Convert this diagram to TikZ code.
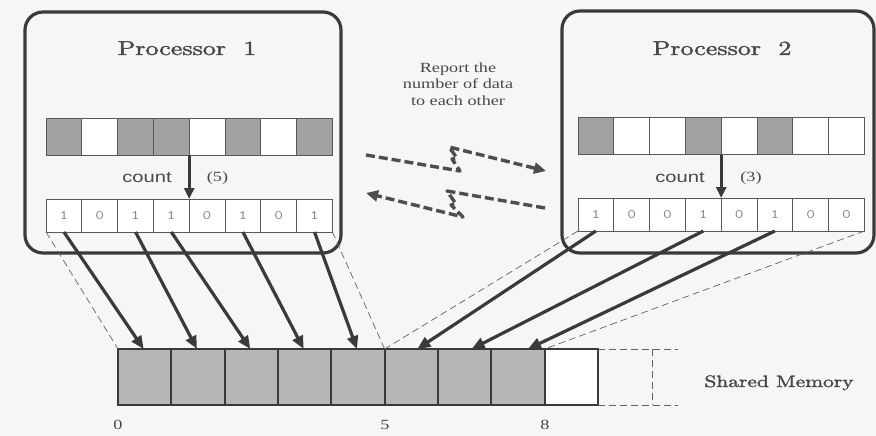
\documentclass[tikz,border=0pt]{standalone}
\usepackage{fontspec}
\newfontfamily\sansf{Liberation Sans}
\newfontfamily\seriff{Liberation Serif}
\newfontfamily\heavyrm[FakeBold=1.6]{lmroman10-regular.otf}
\usetikzlibrary{arrows.meta}
\definecolor{bg}{RGB}{246,246,244}
\definecolor{ink}{RGB}{58,58,58}
\definecolor{txt}{RGB}{72,72,72}
\definecolor{shade}{RGB}{162,162,162}
\definecolor{mshade}{RGB}{182,182,182}
\definecolor{digit}{RGB}{130,130,130}
\newcommand\wx[1]{\scalebox{1.3}[1]{#1}}
\begin{document}
\begin{tikzpicture}[x=1pt,y=-1pt,
  pbox/.style={draw=ink, line width=3.2pt, rounded corners=18pt, inner sep=0pt},
  tcell/.style={draw=ink!85, line width=0.8pt, minimum width=35.8pt, minimum height=37pt, inner sep=0pt, outer sep=0pt, anchor=north west},
  bcell/.style={draw=ink!85, line width=0.8pt, fill=white, minimum width=35.8pt, minimum height=33pt, inner sep=0pt, outer sep=0pt, anchor=north west, text=digit, font=\ttfamily\fontsize{13}{13}\selectfont},
  on/.style={fill=shade},
  off/.style={fill=white},
  mcell/.style={draw=ink, line width=1.8pt, fill=mshade, minimum width=53.33pt, minimum height=56pt, inner sep=0pt, outer sep=0pt, anchor=north west},
  bigarrow/.style={draw=ink, line width=3.2pt, -{Triangle[length=13pt,width=11pt]}},
  cntarrow/.style={draw=ink, line width=3pt, -{Triangle[length=11pt,width=10pt]}},
  commarrow/.style={draw=ink!90, line width=3.4pt, dash pattern=on 9pt off 4pt, line join=round, -{Triangle[length=12pt,width=11pt]}},
  thindash/.style={draw=ink!80, line width=0.7pt, dash pattern=on 7pt off 4pt},
  title/.style={font=\heavyrm\fontsize{20}{24}\selectfont, text=txt, anchor=base},
  cnt/.style={font=\sansf\fontsize{15.5}{15.5}\selectfont, text=txt},
  num/.style={font=\seriff\fontsize{14}{14}\selectfont, text=txt}
]
\fill[bg] (0,0) rectangle (876,436);
\useasboundingbox (0,0) rectangle (876,436);

% processor boxes
\node[pbox, minimum width=316pt, minimum height=241pt] (P1) at (183,132.5) {};
\node[pbox, minimum width=312pt, minimum height=242pt] (P2) at (718,132) {};

\node[title] (h1) at (187,55) {\wx{Processor\ \ 1}};
\node[title] (h2) at (722,55) {\wx{Processor\ \ 2}};

% processor 1 rows
\foreach \i/\st in {1/on,2/off,3/on,4/on,5/off,6/on,7/off,8/on}
  \node[tcell,\st] (p1t\i) at ({46+(\i-1)*35.8},118) {};
\foreach \i/\v in {1/1,2/0,3/1,4/1,5/0,6/1,7/0,8/1}
  \node[bcell] (p1b\i) at ({46+(\i-1)*35.8},199) {\wx{\v}};

% processor 2 rows
\foreach \i/\st in {1/on,2/off,3/off,4/on,5/off,6/on,7/off,8/off}
  \node[tcell,\st] (p2t\i) at ({578+(\i-1)*35.8},117.5) {};
\foreach \i/\v in {1/1,2/0,3/0,4/1,5/0,6/1,7/0,8/0}
  \node[bcell] (p2b\i) at ({578+(\i-1)*35.8},198) {\wx{\v}};

% count arrows
\draw[cntarrow] (p1t4.south east) -- (p1b4.north east);
\draw[cntarrow] (p2t4.south east) -- (p2b4.north east);
\node[cnt] (c1) at (147,178) {\wx{count}};
\node[num] (n1) at (217.5,178) {\wx{(5)}};
\node[cnt] (c2) at (680,178) {\wx{count}};
\node[num] (n2) at (751,178) {\wx{(3)}};

% report text
\node[font=\seriff\fontsize{14}{16.5}\selectfont, text=txt, align=center] (rep) at (458,84)
  {\wx{Report the}\\\wx{number of data}\\\wx{to each other}};

% communication arrows
\coordinate (ua) at (366,155);
\coordinate (ub) at (460,171);
\coordinate (uc) at (452,159);
\coordinate (ud) at (457,158);
\coordinate (ue) at (449,147);
\coordinate (uf) at (546,171);
\draw[commarrow] (ua) -- (ub) -- (uc) -- (ud) -- (ue) -- (uf);
\coordinate (la) at (545,208);
\coordinate (lb) at (447,191);
\coordinate (lc) at (456,204);
\coordinate (ld) at (451,205);
\coordinate (le) at (463,217);
\coordinate (lf) at (366,193);
\draw[commarrow] (la) -- (lb) -- (lc) -- (ld) -- (le) -- (lf);

% shared memory
\foreach \i in {0,...,7}
  \node[mcell] (m\i) at ({118+\i*53.33},349) {};
\node[mcell, fill=white] (m8) at ({118+8*53.33},349) {};
\coordinate (e1) at (678,349);
\coordinate (e2) at (678,405);
\coordinate (e3) at (652,349);
\coordinate (e4) at (652,405);
\draw[thindash] (m8.north east) -- (e1);
\draw[thindash] (m8.south east) -- (e2);
\draw[thindash] (e3) -- (e4);
\node[font=\heavyrm\fontsize{16.5}{20}\selectfont, text=txt, anchor=base] (sm) at (779,387) {\wx{Shared Memory}};

\node[num] (z0) at (118,425) {\wx{0}};
\node[num] (z5) at (385,425) {\wx{5}};
\node[num] (z8) at (545,425) {\wx{8}};

% guide dashed lines
\draw[thindash] (p1b1.south west) -- (m0.north west);
\draw[thindash] (p1b8.south east) -- (m5.north west);
\draw[thindash] (p2b1.south west) -- (m5.north west);
\draw[thindash] (p2b8.south east) -- (m8.north west);

% data arrows
\draw[bigarrow] (p1b1.south) -- ([xshift=-1pt]m0.north);
\draw[bigarrow] (p1b3.south) -- ([xshift=-1pt]m1.north);
\draw[bigarrow] (p1b4.south) -- ([xshift=-1pt]m2.north);
\draw[bigarrow] (p1b6.south) -- ([xshift=-1pt]m3.north);
\draw[bigarrow] (p1b8.south) -- ([xshift=-1pt]m4.north);
\draw[bigarrow] (p2b1.south) -- ([xshift=6pt]m5.north);
\draw[bigarrow] (p2b4.south) -- ([xshift=7pt]m6.north);
\draw[bigarrow] (p2b6.south) -- ([xshift=10pt]m7.north);
\end{tikzpicture}
\end{document}
